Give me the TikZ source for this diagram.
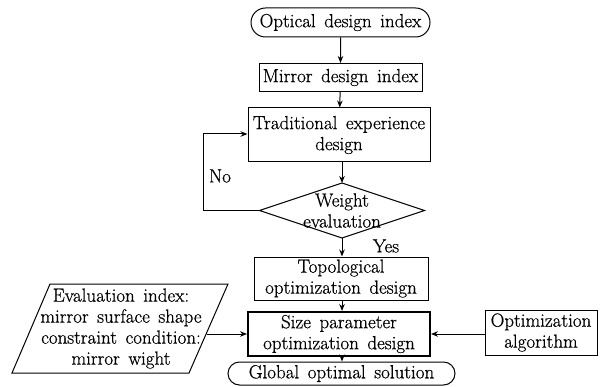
\documentclass[tikz,border=0pt]{standalone}
\usepackage{fontspec}
\newfontfamily\lmfb{Latin Modern Roman}[FakeBold=0.6]
\usetikzlibrary{arrows.meta,shapes.misc}
\newcommand\nfont{\lmfb\fontsize{19}{21}\selectfont\spaceskip 0.45em plus 0.1em minus 0.05em\relax}
\begin{document}
\begin{tikzpicture}[x=1pt,y=-1pt,
  every node/.style={font=\nfont, align=center, inner sep=0pt},
  box/.style={draw, line width=1pt, minimum width=#1},
  term/.style={draw, line width=1pt, rounded rectangle},
  arr/.style={line width=1pt, -{Stealth[length=7pt,width=5.5pt]}}]
\useasboundingbox (0,0) rectangle (604,387);
\node[term, minimum width=179pt, minimum height=29pt] (opt) at (340.5,22.5) {Optical design index};
\node[box=163pt, minimum height=28pt] (mir) at (340.5,77.5) {Mirror design index};
\node[box=182pt, minimum height=54pt] (trad) at (339,135) {Traditional experience\\design};
% diamond
\coordinate (dc) at (342,210.5);
\coordinate (dt) at (342,183);
\coordinate (db) at (342,238);
\coordinate (dl) at (259.5,210.5);
\coordinate (dr) at (424.5,210.5);
\draw[line width=1pt] (dt) -- (dr) -- (db) -- (dl) -- cycle;
\node (wt) at (dc) {Weight\\evaluation};
\node[box=174pt, minimum height=43pt] (topo) at (341,278.5) {Topological\\optimization design};
\node[box=182pt, minimum height=44pt, line width=2pt] (size) at (339,334) {Size parameter\\optimization design};
\node[box=112pt, minimum height=45pt] (alg) at (541,332.5) {Optimization\\algorithm};
% parallelogram
\coordinate (p1) at (50,284);
\coordinate (p2) at (228,284);
\coordinate (p3) at (189,373);
\coordinate (p4) at (12,373);
\draw[line width=1pt] (p1) -- (p2) -- (p3) -- (p4) -- cycle;
\node (par) at (121,328.5) {Evaluation index:\\mirror surface shape\\constraint condition:\\mirror wight};
\coordinate (pr) at (206.5,334);
\node[term, minimum width=227pt, minimum height=23pt] (glob) at (341.5,373.5) {Global optimal solution};
% arrows
\draw[arr] (opt) -- (mir);
\draw[arr] (mir) -- (trad);
\draw[arr] (trad.south -| dt) -- (dt);
\coordinate (lb) at (203,210.5);
\coordinate (lt) at (203,134);
\draw[arr] (dl) -- (lb) -- (lt) -- (lt -| trad.west);
\node (no) at (220,176) {No};
\draw[arr] (db) -- (db |- topo.north);
\node (yes) at (386,246) {Yes};
\draw[arr] (topo.south -| dt) -- (size.north -| dt);
\draw[arr] (alg.west |- size.east) -- (size.east);
\draw[arr] (pr) -- (size.west);
\draw[arr] (size.south -| dt) -- (glob.north -| dt);
\end{tikzpicture}
\end{document}
